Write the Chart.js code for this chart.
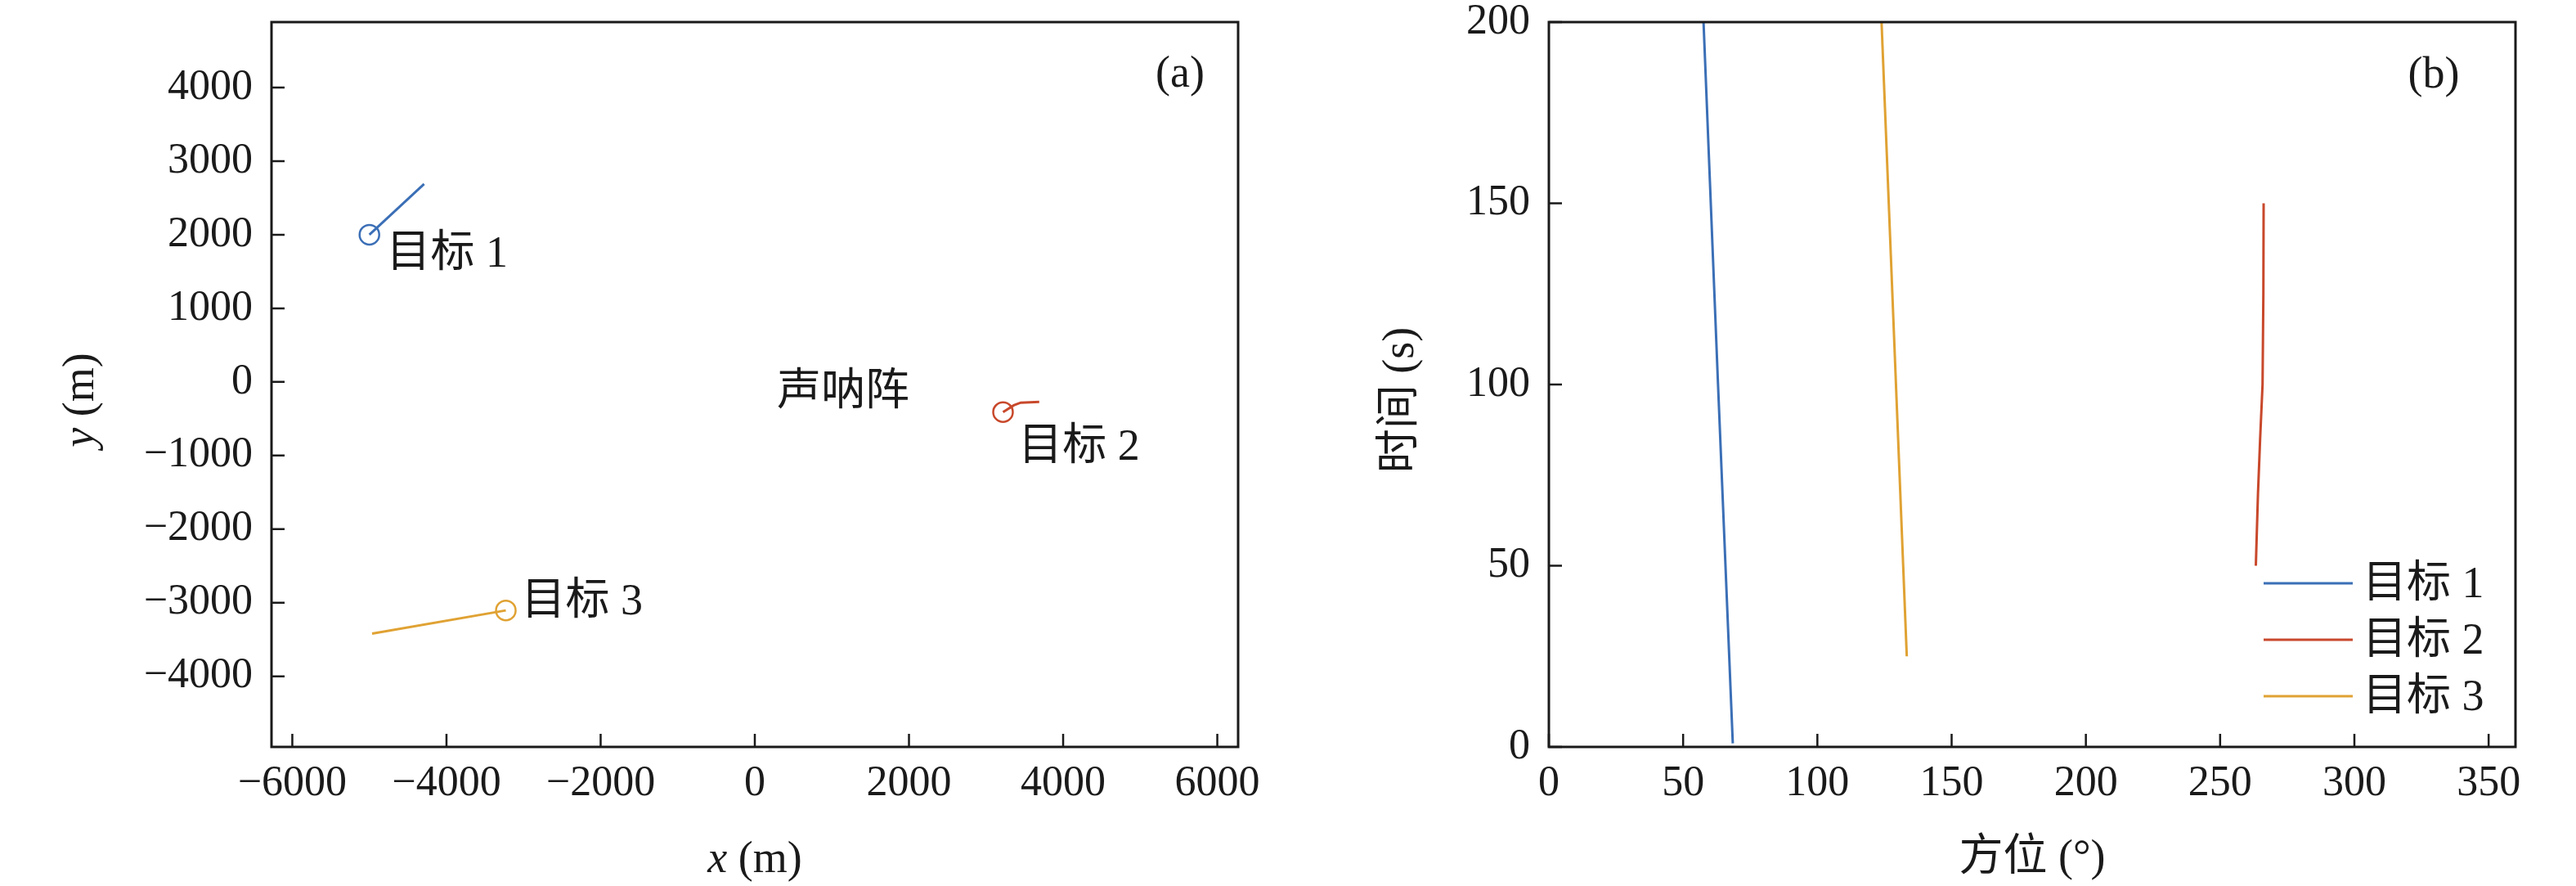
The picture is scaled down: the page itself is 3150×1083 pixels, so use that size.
<!DOCTYPE html>
<html>
<head>
<meta charset="utf-8">
<script src="https://cdn.jsdelivr.net/npm/chart.js@4.4.0/dist/chart.umd.min.js"></script>
<style>
  html, body { margin: 0; padding: 0; background: #fff; }
  .panel { position: absolute; top: 0; width: 1575px; height: 1083px; }
</style>
</head>
<body>
<div class="panel" style="left:0"><canvas id="posChart" width="1575" height="1083"></canvas></div>
<div class="panel" style="left:1575px"><canvas id="bearingChart" width="1575" height="1083"></canvas></div>
<script>
const targetNames = ['目标 1', '目标 2', '目标 3'];
const targetColors = ['#3b6fb6', '#c8482b', '#e0a233'];

// (a) tracks, metres; first point of each is the start (circle)
const track1X = [-5000, -4290];
const track1Y = [2000, 2690];
const track2X = [3220, 3360, 3450, 3690];
const track2Y = [-410, -318, -282, -272];
const track3X = [-3230, -4965];
const track3Y = [-3105, -3420];

// (b) bearing (deg) against time (s)
const bearing1 = [68.5, 63.0, 57.6];
const time1 = [1, 100, 200];
const bearing2 = [263.3, 264.1, 264.9, 265.8, 266.1, 266.2];
const time2 = [50, 70, 85, 100, 125, 150];
const bearing3 = [133.3, 123.9];
const time3 = [25, 200];

const xTicksA = [-6000, -4000, -2000, 0, 2000, 4000, 6000];
const yTicksA = [-4000, -3000, -2000, -1000, 0, 1000, 2000, 3000, 4000];
const xTicksB = [0, 50, 100, 150, 200, 250, 300, 350];
const yTicksB = [0, 50, 100, 150, 200];

// text placed in (a), data coordinates
const notesA = [
    { text: '目标 1', x: -4780, y: 1720, align: 'left' },
    { text: '目标 2', x: 3420, y: -896, align: 'left' },
    { text: '目标 3', x: -3030, y: -2997, align: 'left' },
    { text: '声呐阵', x: 1145, y: -150, align: 'center' },
];

const FONT = '"Liberation Serif", "Noto Sans CJK SC", serif';
const INK = '#1a1a1a';
const SIZE = 52;
Chart.defaults.font.family = FONT;
Chart.defaults.font.size = SIZE;
Chart.defaults.color = INK;

const zip = (xs, ys) => xs.map((x, i) => ({ x: x, y: ys[i] }));
const minus = v => (v < 0 ? '\u2212' + Math.abs(v) : String(v));

function drawRich(ctx, parts, cx, cy, rotate) {
    ctx.save();
    ctx.translate(cx, cy);
    if (rotate) ctx.rotate(-Math.PI / 2);
    ctx.textBaseline = 'middle';
    ctx.textAlign = 'left';
    let total = 0;
    parts.forEach(p => {
        ctx.font = (p.italic ? 'italic ' : '') + '54px ' + FONT;
        p.w = ctx.measureText(p.t).width;
        total += p.w;
    });
    let x = -total / 2;
    parts.forEach(p => {
        ctx.font = (p.italic ? 'italic ' : '') + '54px ' + FONT;
        ctx.fillText(p.t, x, 0);
        x += p.w;
    });
    ctx.restore();
}

// box, inward ticks, axis titles, panel tag, notes and legend
const framePlugin = {
    id: 'frame',
    afterDraw(chart, args, opts) {
        const ctx = chart.ctx;
        const a = chart.chartArea;
        const xs = chart.scales.x;
        const ys = chart.scales.y;
        ctx.save();
        ctx.strokeStyle = INK;
        ctx.fillStyle = INK;
        ctx.lineWidth = 2.5;
        ctx.beginPath();
        xs.ticks.forEach(t => {
            const px = xs.getPixelForValue(t.value);
            ctx.moveTo(px, a.bottom);
            ctx.lineTo(px, a.bottom - 16);
        });
        ys.ticks.forEach(t => {
            const py = ys.getPixelForValue(t.value);
            ctx.moveTo(a.left, py);
            ctx.lineTo(a.left + 16, py);
        });
        ctx.stroke();
        ctx.lineWidth = 3;
        ctx.strokeRect(a.left, a.top, a.right - a.left, a.bottom - a.top);

        drawRich(ctx, opts.xTitle, (a.left + a.right) / 2, opts.xTitleY, false);
        drawRich(ctx, opts.yTitle, opts.yTitleX, opts.yTitleY, true);

        ctx.font = '54px ' + FONT;
        ctx.textBaseline = 'middle';
        ctx.textAlign = 'center';
        ctx.fillText(opts.tag, a.right - opts.tagRight, a.top + opts.tagTop);

        (opts.notes || []).forEach(n => {
            ctx.textAlign = n.align;
            ctx.fillText(n.text, xs.getPixelForValue(n.x), ys.getPixelForValue(n.y));
        });

        if (opts.legend) {
            const L = opts.legend;
            chart.data.datasets.forEach((ds, i) => {
                const y = a.bottom - L.bottom - (chart.data.datasets.length - 1 - i) * L.rowH;
                const x0 = a.right - L.right;
                ctx.strokeStyle = ds.borderColor;
                ctx.lineWidth = 3;
                ctx.beginPath();
                ctx.moveTo(x0, y);
                ctx.lineTo(x0 + L.lineLen, y);
                ctx.stroke();
                ctx.textAlign = 'left';
                ctx.fillText(ds.label, x0 + L.lineLen + L.gap, y + 3);
            });
        }
        ctx.restore();
    }
};

function axis(min, max, ticks, width, height, pad) {
    return {
        type: 'linear',
        min: min,
        max: max,
        grid: { display: false, drawTicks: false },
        border: { display: false },
        title: { display: false },
        ticks: { padding: pad, callback: minus, font: { size: SIZE, lineHeight: 1 } },
        afterBuildTicks: s => { s.ticks = ticks.map(v => ({ value: v })); },
        afterFit: s => {
            if (width) s.width = width;
            if (height) s.height = height;
            // keep the plot box where the figure has it
            s.paddingTop = 0;
            s.paddingBottom = 0;
            s.paddingLeft = 0;
            s.paddingRight = 0;
        },
    };
}

function trackSet(xs, ys, color) {
    return {
        data: zip(xs, ys),
        showLine: true,
        borderColor: color,
        borderWidth: 3,
        pointRadius: 0,
        fill: false,
    };
}

function startSet(xs, ys, color) {
    return {
        data: [{ x: xs[0], y: ys[0] }],
        showLine: false,
        pointRadius: 12,
        pointBorderWidth: 2.5,
        pointBorderColor: color,
        pointBackgroundColor: 'rgba(0,0,0,0)',
    };
}

new Chart(document.getElementById('posChart'), {
    type: 'scatter',
    data: {
        datasets: [
            trackSet(track1X, track1Y, targetColors[0]),
            trackSet(track2X, track2Y, targetColors[1]),
            trackSet(track3X, track3Y, targetColors[2]),
            startSet(track1X, track1Y, targetColors[0]),
            startSet(track2X, track2Y, targetColors[1]),
            startSet(track3X, track3Y, targetColors[2]),
        ],
    },
    options: {
        responsive: false,
        animation: false,
        devicePixelRatio: 1,
        layout: { padding: { top: 27, right: 61, left: 0, bottom: 0 } },
        scales: {
            x: axis(-6270, 6270, xTicksA, null, 170, 19),
            y: axis(-4960, 4890, yTicksA, 332, null, 23),
        },
        plugins: {
            legend: { display: false },
            tooltip: { enabled: false },
            frame: {
                xTitle: [{ t: 'x', italic: true }, { t: ' (m)' }],
                yTitle: [{ t: 'y', italic: true }, { t: ' (m)' }],
                xTitleY: 1052,
                yTitleX: 100,
                yTitleY: 489,
                tag: '(a)',
                tagRight: 71,
                tagTop: 65,
                notes: notesA,
            },
        },
    },
    plugins: [framePlugin],
});

new Chart(document.getElementById('bearingChart'), {
    type: 'scatter',
    data: {
        datasets: [
            Object.assign(trackSet(bearing1, time1, targetColors[0]), { label: targetNames[0] }),
            Object.assign(trackSet(bearing2, time2, targetColors[1]), { label: targetNames[1] }),
            Object.assign(trackSet(bearing3, time3, targetColors[2]), { label: targetNames[2] }),
        ],
    },
    options: {
        responsive: false,
        animation: false,
        devicePixelRatio: 1,
        layout: { padding: { top: 27, right: 74, left: 0, bottom: 0 } },
        scales: {
            x: axis(0, 360, xTicksB, null, 170, 19),
            y: axis(0, 200, yTicksB, 319, null, 23),
        },
        plugins: {
            legend: { display: false },
            tooltip: { enabled: false },
            frame: {
                xTitle: [{ t: '方位 (°)' }],
                yTitle: [{ t: '时间 (s)' }],
                xTitleY: 1050,
                yTitleX: 139,
                yTitleY: 489,
                tag: '(b)',
                tagRight: 100,
                tagTop: 66,
                legend: { right: 308, lineLen: 109, gap: 12, bottom: 62, rowH: 69 },
            },
        },
    },
    plugins: [framePlugin],
});
</script>
</body>
</html>
